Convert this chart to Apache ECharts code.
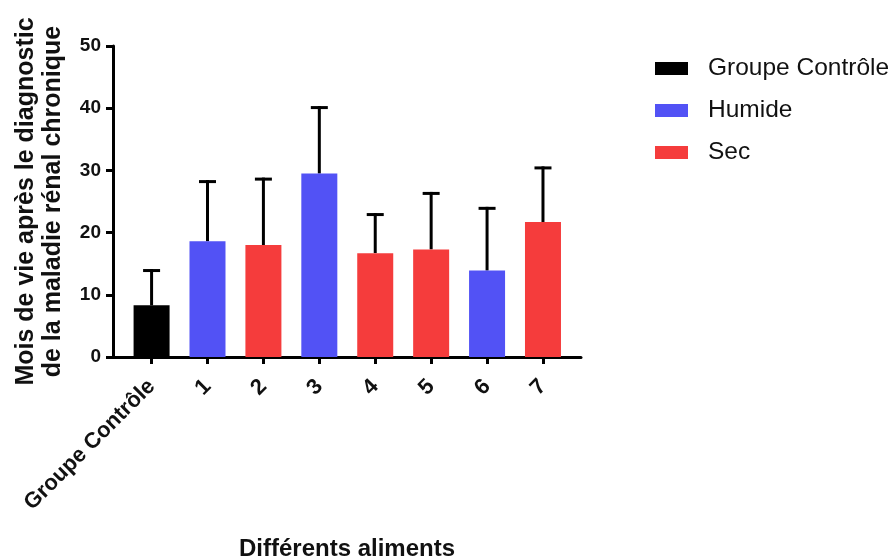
<!DOCTYPE html>
<html>
<head>
<meta charset="utf-8">
<script src="https://cdn.jsdelivr.net/npm/echarts@6/dist/echarts.min.js"></script>
<style>html,body{margin:0;padding:0;background:#fff;}#c{width:892px;height:559px;}</style>
</head>
<body>
<div id="c"></div>
<script>
const categories = ['Groupe Contrôle', '1', '2', '3', '4', '5', '6', '7'];
const means = [8.3, 18.6, 18.0, 29.5, 16.7, 17.3, 13.9, 21.7];
const upper = [13.9, 28.2, 28.6, 40.1, 22.9, 26.3, 23.9, 30.4];
const groups = ['Groupe Contrôle', 'Humide', 'Sec', 'Humide', 'Sec', 'Sec', 'Humide', 'Sec'];
const groupNames = ['Groupe Contrôle', 'Humide', 'Sec'];
const groupColors = ['#000000', '#5252F5', '#F53C3C'];
const yTicks = [0, 10, 20, 30, 40, 50];

const chart = echarts.init(document.getElementById('c'), null, {renderer: 'canvas'});
const idx = categories.map((c, i) => i);
const font = 'Liberation Sans, Arial, Helvetica, sans-serif';

const barSeries = groupNames.map((g, gi) => ({
  name: g,
  type: 'bar',
  barWidth: 36,
  barGap: '-100%',
  itemStyle: {color: groupColors[gi]},
  z: 3,
  data: idx.filter(i => groups[i] === g).map(i => [i, means[i]])
}));

const errSeries = {
  type: 'custom',
  name: 'err',
  z: 2,
  silent: true,
  data: idx.map(i => [i, means[i], upper[i]]),
  renderItem: function (params, api) {
    const x = api.value(0);
    const lo = api.coord([x, api.value(1)]);
    const hi = api.coord([x, api.value(2)]);
    const half = 8.5;
    const st = {stroke: '#000', lineWidth: 3};
    return {
      type: 'group',
      children: [
        {type: 'line', shape: {x1: lo[0], y1: lo[1], x2: hi[0], y2: hi[1] - 1.5}, style: st},
        {type: 'line', shape: {x1: hi[0] - half, y1: hi[1], x2: hi[0] + half, y2: hi[1]}, style: st}
      ]
    };
  }
};

chart.setOption({
  animation: false,
  backgroundColor: '#fff',
  textStyle: {fontFamily: font},
  legend: {
    orient: 'vertical',
    left: 650,
    top: 51,
    itemWidth: 33,
    itemHeight: 13,
    itemGap: 17,
    icon: 'rect',
    data: groupNames,
    textStyle: {fontSize: 24.5, lineHeight: 25, color: '#111', fontFamily: font, padding: [0, 0, 0, 15]}
  },
  grid: {left: 113, top: 46, width: 468, height: 311, containLabel: false, outerBoundsMode: 'none'},
  xAxis: {
    type: 'value',
    min: -0.69,
    max: 7.68,
    name: 'Différents aliments',
    nameLocation: 'middle',
    nameGap: 180,
    nameTextStyle: {fontSize: 24, fontWeight: 'bold', color: '#111', fontFamily: font},
    splitLine: {show: false},
    axisLine: {show: true, lineStyle: {color: '#000', width: 3}},
    axisTick: {show: true, length: 7, lineStyle: {color: '#000', width: 3}, customValues: idx},
    axisLabel: {
      customValues: idx,
      rotate: 45,
      margin: 26,
      fontSize: 22,
      fontWeight: 'bold',
      color: '#111',
      fontFamily: font,
      formatter: v => categories[Math.round(v)]
    }
  },
  yAxis: {
    type: 'value',
    min: 0,
    max: 50,
    interval: 10,
    name: 'Mois de vie après le diagnostic\nde la maladie rénal chronique',
    nameLocation: 'middle',
    nameGap: 46,
    nameTextStyle: {fontSize: 25, fontWeight: 'bold', color: '#111', fontFamily: font, lineHeight: 27},
    splitLine: {show: false},
    axisLine: {show: true, onZero: false, lineStyle: {color: '#000', width: 3}},
    axisTick: {show: true, length: 7, lineStyle: {color: '#000', width: 3}},
    axisLabel: {
      margin: 12,
      fontSize: 19,
      fontWeight: 'bold',
      color: '#111',
      fontFamily: font,
      formatter: v => (yTicks.indexOf(v) >= 0 ? String(v) : '')
    }
  },
  series: [errSeries].concat(barSeries)
});
</script>
</body>
</html>
